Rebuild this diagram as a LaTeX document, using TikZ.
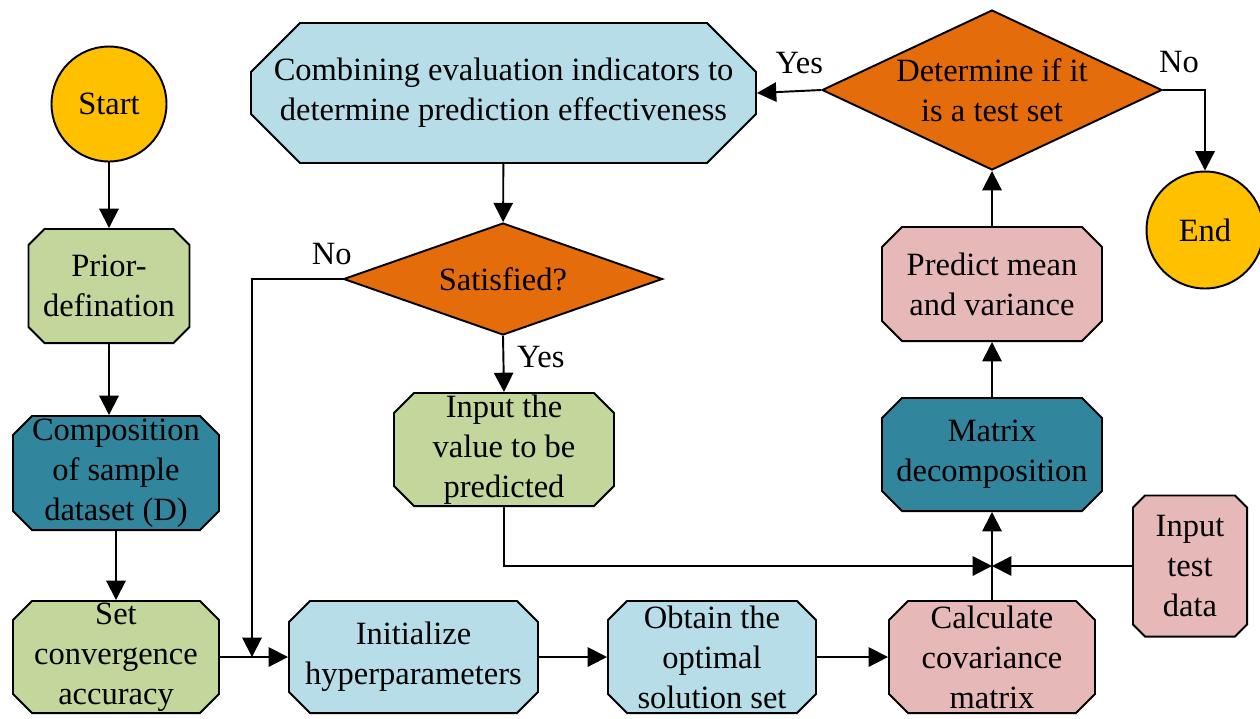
\documentclass[tikz,border=0pt]{standalone}
\usepackage{fontspec}
\setmainfont{Liberation Serif}
\usetikzlibrary{shapes.geometric, arrows.meta}

\definecolor{startyel}{HTML}{FFC000}
\definecolor{stepgreen}{HTML}{C3D69B}
\definecolor{stepteal}{HTML}{31859C}
\definecolor{stepblue}{HTML}{B7DEE8}
\definecolor{steppink}{HTML}{E6B9B8}
\definecolor{askorange}{HTML}{E46C0A}

\begin{document}
\begin{tikzpicture}[x=0.02cm, y=-0.02cm, font=\fontsize{18.5}{22.7}\selectfont, line width=1.1pt,
  stepbox/.style 2 args={rectangle, inner sep=0pt, outer sep=0pt, align=center,
    path picture={\path[draw=black, line width=1.1pt, fill=#1]
      ([xshift=#2, yshift=-0.55pt]path picture bounding box.north west) -- ([xshift=-#2, yshift=-0.55pt]path picture bounding box.north east)
      -- ([xshift=-0.55pt, yshift=-#2]path picture bounding box.north east) -- ([xshift=-0.55pt, yshift=#2]path picture bounding box.south east)
      -- ([xshift=-#2, yshift=0.55pt]path picture bounding box.south east) -- ([xshift=#2, yshift=0.55pt]path picture bounding box.south west)
      -- ([xshift=0.55pt, yshift=#2]path picture bounding box.south west) -- ([xshift=0.55pt, yshift=-#2]path picture bounding box.north west) -- cycle;}},
  askbox/.style={diamond, draw, fill=askorange, inner sep=0pt},
  endcircle/.style={circle, draw, fill=startyel, inner sep=0pt},
  txt/.style={label={[align=center]center:#1}},
  arr/.style={-{Triangle[length=11pt,width=11pt]}}]
\useasboundingbox (0,0) rectangle (1260,718);

% left column
\node[endcircle, minimum size=2.3cm] (start) at (109,104) {Start};
\node[stepbox={stepgreen}{0.34cm}, minimum width=3.26cm, minimum height=2.32cm] (prior) at (109,286) {Prior-\\defination};
\node[stepbox={stepteal}{0.4cm}, minimum width=4.16cm, minimum height=2.32cm] (comp) at (116,473) {Composition\\of sample\\dataset (D)};
\node[stepbox={stepgreen}{0.4cm}, minimum width=4.16cm, minimum height=2.28cm] (setacc) at (116,657) {Set\\convergence\\accuracy};

% bottom row
\node[stepbox={stepblue}{0.44cm}, minimum width=5.02cm, minimum height=2.28cm] (init) at (413.5,657) {Initialize\\hyperparameters};
\node[stepbox={stepblue}{0.4cm}, minimum width=4.2cm, minimum height=2.28cm] (optim) at (712,657) {Obtain the\\optimal\\solution set};
\node[stepbox={steppink}{0.4cm}, minimum width=4.16cm, minimum height=2.28cm] (calc) at (992,657) {Calculate\\covariance\\matrix};
\node[stepbox={steppink}{0.26cm}, minimum width=2.32cm, minimum height=2.86cm] (testin) at (1190,566) {Input\\test\\data};

% right column
\node[stepbox={stepteal}{0.42cm}, minimum width=4.44cm, minimum height=2.3cm] (matrix) at (992,454.5) {Matrix\\decomposition};
\node[stepbox={steppink}{0.42cm}, minimum width=4.44cm, minimum height=2.32cm] (predict) at (992,284) {Predict mean\\and variance};
\node[askbox, minimum width=6.8cm, minimum height=3.2cm, txt={Determine if it\\is a test set}] (testset) at (992,90) {};
\node[endcircle, minimum size=2.34cm] (end) at (1205,230) {End};

% middle
\node[stepbox={stepblue}{1.0cm}, minimum width=10.14cm, minimum height=2.84cm] (combine) at (503.5,93) {Combining evaluation indicators to\\determine prediction effectiveness};
\node[askbox, minimum width=6.38cm, minimum height=2.24cm, txt={Satisfied?}] (satisfied) at (503,279) {};
\node[stepbox={stepgreen}{0.42cm}, minimum width=4.44cm, minimum height=2.3cm] (inval) at (504,449.5) {Input the\\value to be\\predicted};

\coordinate (nojoin) at (252,657);
\coordinate (join) at (992,566);

\draw[arr] (start) -- (prior);
\draw[arr] (prior) -- (comp.north -| prior);
\draw[arr] (comp) -- (setacc);
\draw[arr] (setacc) -- (init);
\draw[arr] (init) -- (optim);
\draw[arr] (optim) -- (calc);
\draw[arr] (calc) -- (matrix);
\draw[arr] (matrix) -- (predict);
\draw[arr] (predict) -- (testset);
\draw[arr] (testset.west) -- node[pos=0.34, above=6pt] (yestop) {Yes} (combine.east);
\draw[arr] (testset.east) -| node[pos=0.19, above=6pt] (notop) {No} (end.north);
\draw[arr] (combine) -- (satisfied);
\draw[arr] (satisfied.south) -- node[pos=0.37, right=4pt] (yessat) {Yes} (inval.north);
\draw[arr] (satisfied.west) -| node[pos=0.06, above=4pt] (nosat) {No} (nojoin);
\draw[arr] (inval.south) |- (join);
\draw[arr] (testin.west) -- (join);
\end{tikzpicture}
\end{document}
